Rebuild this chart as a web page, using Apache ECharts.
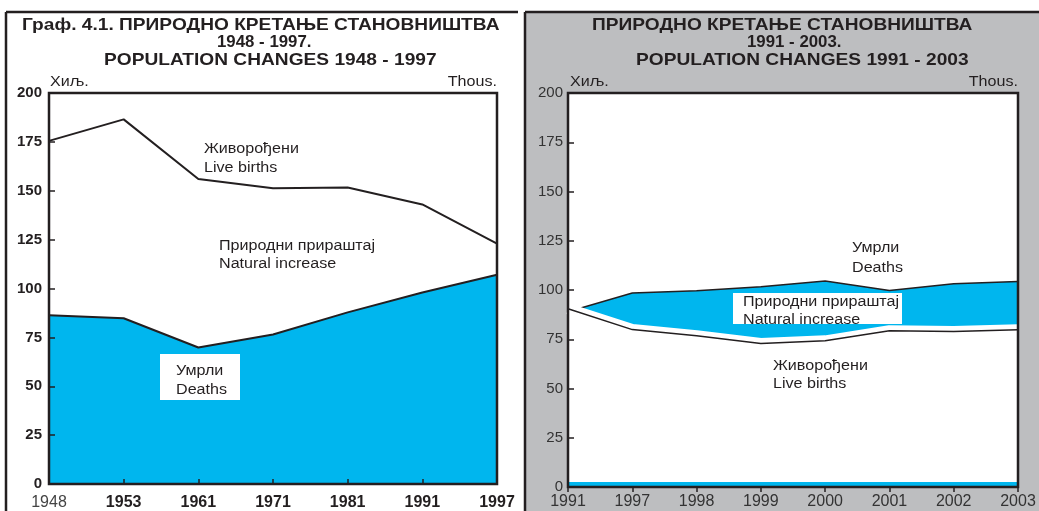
<!DOCTYPE html>
<html>
<head>
<meta charset="utf-8">
<script src="https://cdn.jsdelivr.net/npm/echarts@6/dist/echarts.min.js"></script>
<style>
  html, body { margin: 0; padding: 0; background: #fff; }
  #chart { width: 1039px; height: 511px; }
</style>
</head>
<body>
<div id="chart"></div>
<script>
  // 1948 - 1997 (left panel)
  const years1 = ['1948', '1953', '1961', '1971', '1981', '1991', '1997'];
  const births1 = [175.5, 186.5, 156, 151.3, 151.7, 143, 123];
  const deaths1 = [86.3, 84.8, 69.8, 76.5, 87.8, 98, 107];

  // 1991 - 2003 (right panel)
  const years2 = ['1991', '1997', '1998', '1999', '2000', '2001', '2002', '2003'];
  const deaths2 = [89, 98.5, 99.6, 101.6, 104.6, 99.7, 103.2, 104.3];
  const births2 = [90.5, 79.9, 76.8, 72.8, 74.2, 79.3, 78.9, 79.8];
  const strip2 = [2.5, 2.5, 2.5, 2.5, 2.5, 2.5, 2.5, 2.5];

  const yTicks = [0, 25, 50, 75, 100, 125, 150, 175, 200];

  const INK = '#231f20';
  const BLUE = '#00b6ee';
  const GRAY = '#bdbec0';
  const FONT = '"Liberation Sans", Arial, sans-serif';
  const WIDE = 1.15; // the source lettering is set wider than Arial

  function txt(text, x, y, size, opts) {
    opts = opts || {};
    return {
      type: 'text', x: x, y: y, z: 100,
      scaleX: opts.scale || WIDE,
      style: {
        text: text,
        fill: opts.color || INK,
        font: (opts.bold ? 'bold ' : '') + size + 'px ' + FONT,
        textAlign: opts.align || 'left', align: opts.align || 'left',
        textVerticalAlign: 'middle', verticalAlign: 'middle'
      }
    };
  }
  function box(x, y, w, h, fill, z) {
    return {type: 'rect', z: z, shape: {x: x, y: y, width: w, height: h}, style: {fill: fill}};
  }
  function rule(x1, y1, x2, y2) {
    return {type: 'line', z: 100, shape: {x1: x1, y1: y1, x2: x2, y2: y2}, style: {stroke: INK, lineWidth: 2.5}};
  }

  const graphics = [
    // panel frames
    box(525, 12, 514, 499, GRAY, -20),
    box(568, 93, 450, 394, '#fff', -10),
    rule(6, 12, 518, 12), rule(6, 12, 6, 511),
    rule(525, 12, 1039, 12), rule(525, 12, 525, 511),

    // left titles
    txt('Граф. 4.1. ПРИРОДНО КРЕТАЊЕ СТАНОВНИШТВА', 22, 25, 16.5, {bold: true, scale: 1.16}),
    txt('1948 - 1997.', 217, 42, 16.5, {bold: true, scale: 1.02}),
    txt('POPULATION CHANGES 1948 - 1997', 104, 60, 16.5, {bold: true, scale: 1.16}),
    txt('Хиљ.', 50, 82, 14),
    txt('Thous.', 497, 82, 14, {align: 'right'}),
    // left annotations
    txt('Живорођени', 204, 149, 14),
    txt('Live births', 204, 168, 14),
    txt('Природни прираштај', 219, 246, 14),
    txt('Natural increase', 219, 264, 14),
    box(160, 354, 80, 46, '#fff', 90),
    txt('Умрли', 176, 371, 14),
    txt('Deaths', 176, 390, 14),

    // right titles
    txt('ПРИРОДНО КРЕТАЊЕ СТАНОВНИШТВА', 592, 25, 16.5, {bold: true, scale: 1.16}),
    txt('1991 - 2003.', 747, 42, 16.5, {bold: true, scale: 1.02}),
    txt('POPULATION CHANGES 1991 - 2003', 636, 60, 16.5, {bold: true, scale: 1.16}),
    txt('Хиљ.', 570, 82, 14),
    txt('Thous.', 1018, 82, 14, {align: 'right'}),
    // right annotations
    txt('Умрли', 852, 248, 14),
    txt('Deaths', 852, 268, 14),
    box(733, 293, 169, 31, '#fff', 90),
    txt('Природни прираштај', 743, 302, 14),
    txt('Natural increase', 743, 320, 14),
    txt('Живорођени', 773, 366, 14),
    txt('Live births', 773, 384, 14)
  ];

  const chart = echarts.init(document.getElementById('chart'));

  const baseGrid = {
    show: true, borderColor: INK, borderWidth: 2.5,
    backgroundColor: 'transparent', z: 5
  };

  function yAxis(gridIndex, bold) {
    return {
      type: 'value', gridIndex: gridIndex, z: 6,
      min: yTicks[0], max: yTicks[yTicks.length - 1], interval: yTicks[1] - yTicks[0],
      splitLine: {show: false},
      axisLine: {show: false},
      axisTick: {show: true, inside: true, length: 6, lineStyle: {color: INK, width: 1.5}},
      axisLabel: {
        fontFamily: FONT, fontSize: 15, margin: bold ? 7 : 5,
        fontWeight: bold ? 'bold' : 'normal', color: bold ? INK : '#333'
      }
    };
  }

  chart.setOption({
    animation: false,
    backgroundColor: '#fff',
    graphic: {elements: graphics},
    grid: [
      Object.assign({left: 49, top: 93, width: 448, height: 393}, baseGrid),
      Object.assign({left: 568, top: 93, width: 450, height: 394}, baseGrid)
    ],
    xAxis: [
      {
        type: 'category', gridIndex: 0, data: years1, boundaryGap: false, z: 6,
        axisLine: {show: false},
        axisTick: {show: true, inside: true, length: 5, lineStyle: {color: INK, width: 1.5}},
        axisLabel: {
          fontFamily: FONT, fontSize: 16, fontWeight: 'bold', color: INK, margin: 11,
          showMinLabel: true, showMaxLabel: true, interval: 0,
          formatter: function (v, i) { return i === 0 ? '{r|' + v + '}' : v; },
          rich: {r: {fontFamily: FONT, fontSize: 16, fontWeight: 'normal', color: '#444'}}
        }
      },
      {
        type: 'category', gridIndex: 1, data: years2, boundaryGap: false, z: 6,
        axisLine: {show: false},
        axisTick: {show: true, inside: false, length: 5, lineStyle: {color: INK, width: 1.5}},
        axisLabel: {
          fontFamily: FONT, fontSize: 16, color: '#333', margin: 7,
          showMinLabel: true, showMaxLabel: true, interval: 0
        }
      }
    ],
    yAxis: [yAxis(0, true), yAxis(1, false)],
    series: [
      {
        type: 'line', xAxisIndex: 0, yAxisIndex: 0, data: deaths1, symbol: 'none',
        lineStyle: {color: INK, width: 2}, areaStyle: {color: BLUE, opacity: 1}
      },
      {
        type: 'line', xAxisIndex: 0, yAxisIndex: 0, data: births1, symbol: 'none',
        lineStyle: {color: INK, width: 2}
      },
      {
        type: 'line', xAxisIndex: 1, yAxisIndex: 1, data: deaths2, symbol: 'none',
        lineStyle: {color: INK, width: 1.5}, areaStyle: {color: BLUE, opacity: 1}
      },
      {
        // white band above the births line
        type: 'line', xAxisIndex: 1, yAxisIndex: 1, data: births2, symbol: 'none',
        lineStyle: {color: '#fff', width: 11}, areaStyle: {color: '#fff', opacity: 1}
      },
      {
        type: 'line', xAxisIndex: 1, yAxisIndex: 1, data: births2, symbol: 'none',
        lineStyle: {color: INK, width: 1.5}
      },
      {
        type: 'line', xAxisIndex: 1, yAxisIndex: 1, data: strip2, symbol: 'none',
        lineStyle: {opacity: 0}, areaStyle: {color: BLUE, opacity: 1}
      }
    ]
  });
</script>
</body>
</html>
